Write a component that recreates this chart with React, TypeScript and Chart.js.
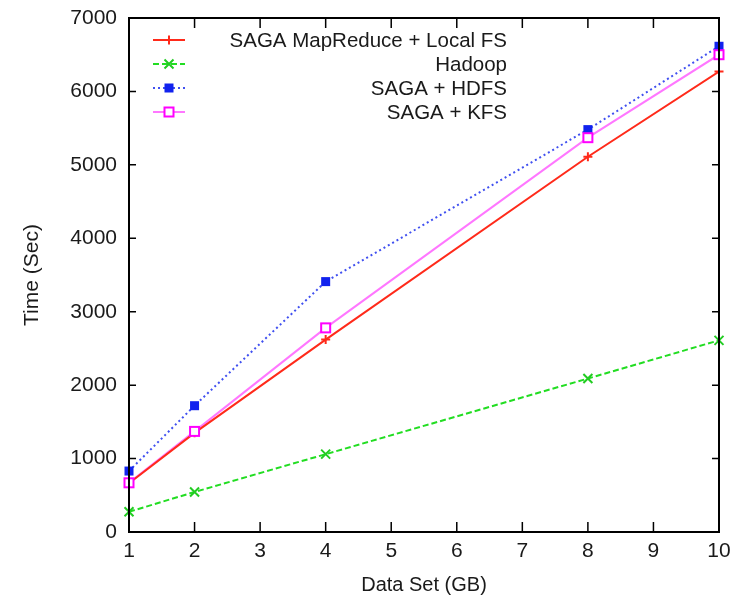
import React, { useEffect, useRef } from "react";
import { Chart, registerables } from "chart.js";

Chart.register(...registerables);

const xValues = [1, 2, 4, 8, 10];
const localFS = [665, 1350, 2620, 5110, 6270];
const hadoop = [275, 545, 1060, 2090, 2610];
const hdfs = [830, 1720, 3410, 5480, 6615];
const kfs = [670, 1370, 2780, 5370, 6500];
const seriesLabels = ["SAGA MapReduce + Local FS", "Hadoop", "SAGA + HDFS", "SAGA + KFS"];
const xTicks = [1, 2, 3, 4, 5, 6, 7, 8, 9, 10];
const yTicks = [0, 1000, 2000, 3000, 4000, 5000, 6000, 7000];

const FONT = "'Liberation Sans', Arial, sans-serif";
const TEXT = "#1a1a1a";

const lineColors = ["#ff2a1a", "#22dd22", "#4050f0", "#ff77ff"];
const markerColors = ["#ff2a1a", "#22cc22", "#1122ee", "#ff00ff"];
const dashes: number[][] = [[], [6, 3], [2, 3], []];
const markerKinds = ["plus", "x", "fsq", "hsq"];

function drawMarker(ctx: CanvasRenderingContext2D, kind: string, x: number, y: number, color: string) {
  const r = 4.5;
  ctx.save();
  ctx.setLineDash([]);
  ctx.strokeStyle = color;
  ctx.fillStyle = color;
  ctx.lineWidth = 2;
  ctx.beginPath();
  if (kind === "plus") {
    ctx.moveTo(x - r, y); ctx.lineTo(x + r, y);
    ctx.moveTo(x, y - r); ctx.lineTo(x, y + r);
    ctx.stroke();
  } else if (kind === "x") {
    ctx.moveTo(x - r, y - r); ctx.lineTo(x + r, y + r);
    ctx.moveTo(x - r, y + r); ctx.lineTo(x + r, y - r);
    ctx.stroke();
  } else if (kind === "fsq") {
    ctx.fillRect(x - r, y - r, 2 * r, 2 * r);
  } else {
    ctx.fillStyle = "#ffffff";
    ctx.fillRect(x - r, y - r, 2 * r, 2 * r);
    ctx.strokeRect(x - r, y - r, 2 * r, 2 * r);
  }
  ctx.restore();
}

const framePlugin = {
  id: "frame",
  afterDatasetsDraw(chart: any) {
    const { ctx, chartArea } = chart;
    const { left, right, top, bottom } = chartArea;
    chart.data.datasets.forEach((ds: any, i: number) => {
      const meta = chart.getDatasetMeta(i);
      meta.data.forEach((pt: any) => drawMarker(ctx, markerKinds[i], pt.x, pt.y, markerColors[i]));
    });
    ctx.save();
    ctx.strokeStyle = "#000";
    ctx.lineWidth = 2;
    ctx.strokeRect(left, top, right - left, bottom - top);
    const xs = chart.scales.x;
    const ys = chart.scales.y;
    ctx.lineWidth = 1.5;
    ctx.beginPath();
    xTicks.forEach((v) => {
      const px = xs.getPixelForValue(v);
      ctx.moveTo(px, bottom); ctx.lineTo(px, bottom - 10);
      ctx.moveTo(px, top); ctx.lineTo(px, top + 10);
    });
    yTicks.forEach((v) => {
      const py = ys.getPixelForValue(v);
      ctx.moveTo(left, py); ctx.lineTo(left + 7, py);
      ctx.moveTo(right, py); ctx.lineTo(right - 7, py);
    });
    ctx.stroke();
    // legend
    const textRight = 499;
    const sx0 = 145, sx1 = 177;
    ctx.font = `20.5px ${FONT}`;
    ctx.textAlign = "right";
    ctx.textBaseline = "middle";
    chart.data.datasets.forEach((ds: any, i: number) => {
      const y = top + 22 + i * 24;
      ctx.fillStyle = TEXT;
      ctx.fillText(ds.label, textRight, y + 1);
      ctx.save();
      ctx.strokeStyle = lineColors[i];
      ctx.lineWidth = 2;
      ctx.setLineDash(dashes[i]);
      ctx.beginPath();
      ctx.moveTo(sx0, y); ctx.lineTo(sx1, y);
      ctx.stroke();
      ctx.restore();
      drawMarker(ctx, markerKinds[i], (sx0 + sx1) / 2, y, markerColors[i]);
    });
    ctx.restore();
  },
};

export default function App() {
  const ref = useRef<HTMLCanvasElement | null>(null);
  useEffect(() => {
    if (!ref.current) return;
    const series = [localFS, hadoop, hdfs, kfs];
    const chart = new Chart(ref.current, {
      type: "line",
      data: {
        datasets: series.map((vals, i) => ({
          label: seriesLabels[i],
          data: xValues.map((x, j) => ({ x, y: vals[j] })),
          borderColor: lineColors[i],
          borderWidth: 2,
          borderDash: dashes[i],
          pointRadius: 0,
          fill: false,
          tension: 0,
        })),
      },
      options: {
        animation: false,
        responsive: false,
        maintainAspectRatio: false,
        layout: { padding: { top: 10, right: 15, left: 0, bottom: 0 } },
        plugins: { legend: { display: false }, tooltip: { enabled: false } },
        scales: {
          x: {
            type: "linear",
            min: 1,
            max: 10,
            grid: { display: false, drawTicks: false },
            border: { display: false },
            ticks: {
              stepSize: 1,
              padding: 7,
              color: TEXT,
              font: { family: FONT, size: 21 },
              maxRotation: 0,
              callback: (v: any) => String(v),
            },
            title: {
              display: true,
              text: "Data Set (GB)",
              color: TEXT,
              font: { family: FONT, size: 20 },
              padding: { top: 2, bottom: 1 },
            },
            afterFit: (s: any) => {
              s.height = 66;
              s.paddingLeft = 0;
              s.paddingRight = 0;
            },
          },
          y: {
            type: "linear",
            min: 0,
            max: 7000,
            grid: { display: false, drawTicks: false },
            border: { display: false },
            ticks: {
              stepSize: 1000,
              padding: 12,
              color: TEXT,
              font: { family: FONT, size: 21 },
              callback: (v: any) => String(v),
            },
            title: {
              display: true,
              text: "Time (Sec)",
              color: TEXT,
              font: { family: FONT, size: 21 },
              padding: { top: 12, bottom: 4 },
            },
            afterFit: (s: any) => {
              s.width = 121;
              s.paddingTop = 0;
              s.paddingBottom = 0;
            },
          },
        },
      },
      plugins: [framePlugin],
    } as any);
    return () => chart.destroy();
  }, []);
  return (
    <div style={{ width: 726, height: 590 }}>
      <canvas ref={ref} width={726} height={590} style={{ width: 726, height: 590, display: "block" }} />
    </div>
  );
}
